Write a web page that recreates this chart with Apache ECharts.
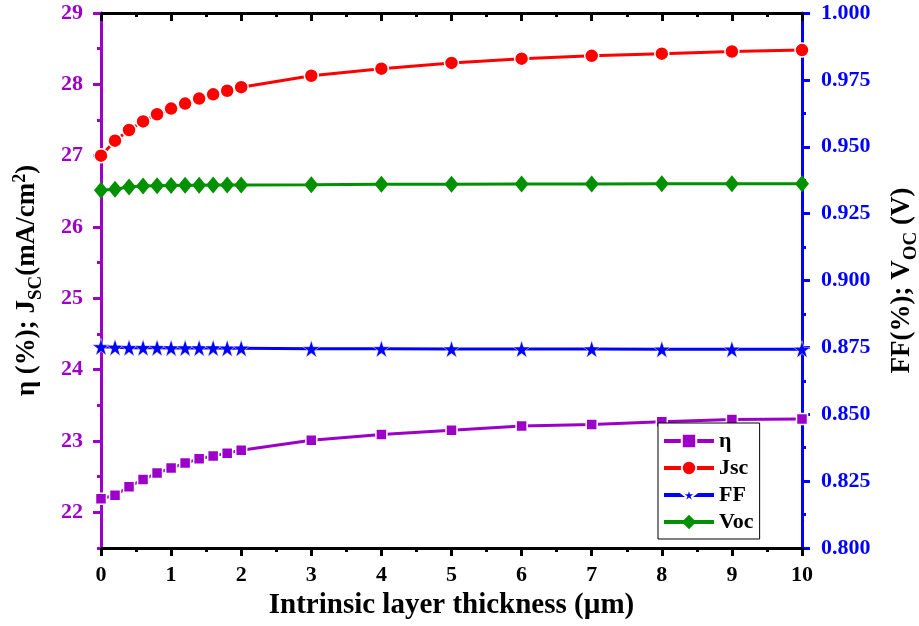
<!DOCTYPE html>
<html>
<head>
<meta charset="utf-8">
<script src="https://cdn.jsdelivr.net/npm/echarts@6/dist/echarts.min.js"></script>
<style>
  html, body { margin: 0; padding: 0; background: #fff; }
  #chart { width: 919px; height: 626px; }
</style>
</head>
<body>
<div id="chart"></div>
<script>
// Intrinsic layer thickness (µm)
const thickness = [0, 0.2, 0.4, 0.6, 0.8, 1.0, 1.2, 1.4, 1.6, 1.8, 2.0, 3, 4, 5, 6, 7, 8, 9, 10];
// Efficiency (%) – left axis
const eta = [22.19, 22.24, 22.36, 22.46, 22.55, 22.62, 22.69, 22.75, 22.79, 22.83, 22.87, 23.01, 23.09, 23.15, 23.21, 23.23, 23.27, 23.30, 23.31];
// Short-circuit current density (mA/cm²) – left axis
const jsc = [27.00, 27.21, 27.36, 27.48, 27.58, 27.66, 27.73, 27.80, 27.86, 27.91, 27.96, 28.12, 28.22, 28.30, 28.36, 28.40, 28.43, 28.46, 28.48];
// Fill factor – right axis
const ff = [0.8752, 0.8750, 0.8749, 0.8749, 0.8749, 0.8748, 0.8748, 0.8748, 0.8748, 0.8747, 0.8747, 0.8745, 0.8745, 0.8744, 0.8744, 0.8744, 0.8743, 0.8743, 0.8743];
// Open-circuit voltage (V) – right axis
const voc = [0.9337, 0.9341, 0.9350, 0.9353, 0.9354, 0.9355, 0.9356, 0.9356, 0.9357, 0.9357, 0.9357, 0.9358, 0.9360, 0.9360, 0.9361, 0.9361, 0.9362, 0.9362, 0.9362];

// Left-axis range and its labelled whole-unit span
const leftMin = 21.5, leftMax = 29, leftLabelMin = 22;

const PURPLE = '#9C00C8';
const RED = '#FF0000';
const BLUE = '#0000FF';
const GREEN = '#009000';
const FONT = '"Liberation Serif", "Times New Roman", serif';

const starPath = 'path://M50,0 L61.8,35.4 L100,35.4 L69.1,57.3 L80.9,92.7 L50,70.8 L19.1,92.7 L30.9,57.3 L0,35.4 L38.2,35.4 Z';

const pairs = ys => thickness.map((x, i) => [x, ys[i]]);

// plot frame
const G = { left: 101, right: 117, top: 13, bottom: 78 };
const plotH = 626 - G.top - G.bottom;
// second frame covering only the labelled span (22–29) of the left axis
const labelGridH = plotH * (leftMax - leftLabelMin) / (leftMax - leftMin);

const chart = echarts.init(document.getElementById('chart'), null, { renderer: 'canvas' });

const tickLabel = color => ({ color: color, fontFamily: FONT, fontWeight: 'bold', fontSize: 22 });

chart.setOption({
  animation: false,
  backgroundColor: '#fff',
  grid: [
    { left: G.left, right: G.right, top: G.top, bottom: G.bottom, containLabel: false, outerBoundsMode: 'none' },
    { left: G.left, right: G.right, top: G.top, height: labelGridH, containLabel: false, outerBoundsMode: 'none' }
  ],
  legend: {
    orient: 'vertical',
    left: 658,
    top: 423,
    backgroundColor: '#fff',
    borderColor: '#000',
    borderWidth: 1,
    borderRadius: 0,
    padding: [7, 6, 6, 4],
    itemWidth: 50,
    itemHeight: 18,
    itemGap: 5,
    lineStyle: { width: 4 },
    textStyle: { fontFamily: FONT, fontWeight: 'bold', fontSize: 22, color: '#000' },
    data: ['η', 'Jsc', 'FF', 'Voc']
  },
  xAxis: [
    {
      type: 'value', gridIndex: 0, position: 'bottom', min: 0, max: 10, interval: 1,
      axisLine: { onZero: false, lineStyle: { color: '#000', width: 3 } },
      axisTick: { length: 8, lineStyle: { color: '#000', width: 3 } },
      minorTick: { show: true, splitNumber: 2, length: 4, lineStyle: { color: '#000', width: 3 } },
      axisLabel: Object.assign({ margin: 16 }, tickLabel('#000')),
      splitLine: { show: false },
      name: 'Intrinsic layer thickness (µm)',
      nameLocation: 'middle',
      nameGap: 33,
      nameTextStyle: { fontFamily: FONT, fontWeight: 'bold', fontSize: 29, color: '#000' }
    },
    {
      type: 'value', gridIndex: 0, position: 'top', min: 0, max: 10, interval: 1,
      axisLine: { onZero: false, lineStyle: { color: '#000', width: 3 } },
      axisTick: { inside: true, length: 8, lineStyle: { color: '#000', width: 3 } },
      minorTick: { show: true, splitNumber: 2, length: 4, lineStyle: { color: '#000', width: 3 } },
      axisLabel: { show: false },
      splitLine: { show: false }
    },
    {
      type: 'value', gridIndex: 1, min: 0, max: 10, show: false
    }
  ],
  yAxis: [
    {
      // left axis: line and half-unit minor ticks
      type: 'value', gridIndex: 0, position: 'left', min: leftMin, max: leftMax, interval: 0.5,
      axisLine: { show: true, onZero: false, lineStyle: { color: PURPLE, width: 3 } },
      axisTick: { length: 4, lineStyle: { color: PURPLE, width: 3 } },
      axisLabel: { show: false },
      splitLine: { show: false },
      name: '{b|η (%); J}{s|SC}{b|(mA/cm}{p|2}{b|)}',
      nameLocation: 'middle',
      nameGap: 60,
      nameTextStyle: {
        rich: {
          b: { fontFamily: FONT, fontWeight: 'bold', fontSize: 27, color: '#000', verticalAlign: 'bottom', lineHeight: 30 },
          s: { fontFamily: FONT, fontWeight: 'bold', fontSize: 19, color: '#000', verticalAlign: 'bottom', lineHeight: 24, padding: [0, 0, -5, 0] },
          p: { fontFamily: FONT, fontWeight: 'bold', fontSize: 18, color: '#000', verticalAlign: 'top', lineHeight: 30 }
        }
      }
    },
    {
      type: 'value', gridIndex: 0, position: 'right', min: 0.8, max: 1.0, interval: 0.025,
      axisLine: { show: true, onZero: false, lineStyle: { color: BLUE, width: 3 } },
      axisTick: { length: 8, lineStyle: { color: BLUE, width: 3 } },
      minorTick: { show: true, splitNumber: 2, length: 4, lineStyle: { color: BLUE, width: 3 } },
      axisLabel: Object.assign({ margin: 19, formatter: v => v.toFixed(3) }, tickLabel(BLUE)),
      splitLine: { show: false },
      name: '{b|FF(%); V}{s|OC}{b| (V)}',
      nameLocation: 'middle',
      nameGap: 84,
      nameTextStyle: {
        rich: {
          b: { fontFamily: FONT, fontWeight: 'bold', fontSize: 27, color: '#000', verticalAlign: 'bottom', lineHeight: 30 },
          s: { fontFamily: FONT, fontWeight: 'bold', fontSize: 19, color: '#000', verticalAlign: 'bottom', lineHeight: 24, padding: [0, 0, -5, 0] }
        }
      }
    },
    {
      // left axis: whole-unit major ticks and labels (22–29)
      type: 'value', gridIndex: 1, position: 'left', min: leftLabelMin, max: leftMax, interval: 1,
      axisLine: { show: true, onZero: false, lineStyle: { color: PURPLE, width: 3 } },
      axisTick: { length: 8, lineStyle: { color: PURPLE, width: 3 } },
      axisLabel: Object.assign({ margin: 18 }, tickLabel(PURPLE)),
      splitLine: { show: false }
    }
  ],
  series: [
    {
      name: 'η', type: 'line', xAxisIndex: 0, yAxisIndex: 0,
      data: pairs(eta),
      symbol: 'rect', symbolSize: 11,
      lineStyle: { color: PURPLE, width: 3 },
      itemStyle: { color: PURPLE, borderColor: '#fff', borderWidth: 1.5 },
      z: 3
    },
    {
      name: 'Jsc', type: 'line', xAxisIndex: 0, yAxisIndex: 0,
      data: pairs(jsc),
      symbol: 'circle', symbolSize: 14,
      lineStyle: { color: RED, width: 3 },
      itemStyle: { color: RED, borderColor: '#fff', borderWidth: 1.5 },
      z: 3
    },
    {
      name: 'FF', type: 'line', xAxisIndex: 0, yAxisIndex: 1,
      data: pairs(ff),
      symbol: starPath, symbolSize: 17,
      lineStyle: { color: BLUE, width: 3 },
      itemStyle: { color: BLUE, borderColor: '#fff', borderWidth: 0.5 },
      z: 3
    },
    {
      name: 'Voc', type: 'line', xAxisIndex: 0, yAxisIndex: 1,
      data: pairs(voc),
      symbol: 'diamond', symbolSize: [14, 17],
      lineStyle: { color: GREEN, width: 3 },
      itemStyle: { color: GREEN },
      z: 3
    }
  ]
});
</script>
</body>
</html>
